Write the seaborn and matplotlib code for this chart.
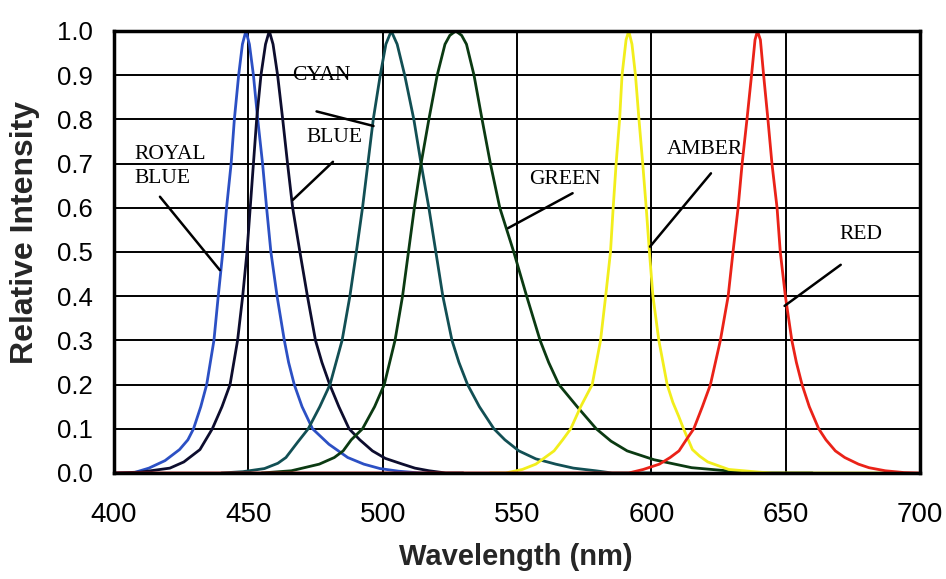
import numpy as np
import pandas as pd
import matplotlib
matplotlib.use("Agg")
import matplotlib.pyplot as plt
import seaborn as sns

# LED emission spectra (wavelength nm, relative intensity)
royal_nm = [400, 407, 413, 419, 424.4, 427.5, 429.6, 432.3, 434.5, 437.2, 438.8, 440.5, 441.9, 443.6, 444.8,
            446.4, 447.8, 449.1, 450.4, 451.9, 453.5, 455.3, 456.8, 458.4, 460.7, 463.4, 465.0, 467.1, 470.0,
            473.9, 480, 487, 493, 499, 506, 514, 520]
royal_val = [0.0, 0.0, 0.011, 0.028, 0.053, 0.075, 0.1, 0.15, 0.2, 0.3, 0.4, 0.5, 0.6, 0.7, 0.8,
             0.9, 0.97, 1.0, 0.97, 0.9, 0.8, 0.7, 0.6, 0.5, 0.4, 0.3, 0.25, 0.2, 0.15,
             0.1, 0.065, 0.035, 0.02, 0.01, 0.004, 0.0, 0.0]

blue_nm = [400, 410, 420.8, 426, 432, 436.6, 440.2, 443.2, 446.0, 447.9, 449.5, 450.7, 451.9, 453.1, 454.7,
           456.4, 457.8, 459.2, 460.9, 462.8, 464.6, 466.5, 469.2, 472.0, 475.0, 477.4, 480.3, 483.7, 487.5,
           491.5, 496.2, 501, 507.4, 512, 517.3, 523.5, 530]
blue_val = [0.0, 0.002, 0.011, 0.025, 0.053, 0.1, 0.15, 0.2, 0.3, 0.4, 0.5, 0.6, 0.7, 0.8, 0.9,
            0.97, 1.0, 0.97, 0.9, 0.8, 0.7, 0.6, 0.5, 0.4, 0.3, 0.25, 0.2, 0.15, 0.1,
            0.075, 0.05, 0.033, 0.02, 0.011, 0.005, 0.0, 0.0]

cyan_nm = [440, 448, 456, 461, 464, 468.4, 472.3, 476.6, 480.4, 484.9, 487.8, 490.2, 492.5, 494.5, 496.5,
           499.1, 501.2, 503.2, 505.4, 508.2, 511.6, 514.3, 517.2, 519.8, 522.4, 525.8, 528.4, 531.6, 536.0,
           541.4, 545.5, 550.7, 557.0, 564.4, 571.0, 579.3, 585.4, 600]
cyan_val = [0.0, 0.003, 0.01, 0.022, 0.035, 0.07, 0.1, 0.15, 0.2, 0.3, 0.4, 0.5, 0.6, 0.7, 0.8,
            0.9, 0.97, 1.0, 0.97, 0.9, 0.8, 0.7, 0.6, 0.5, 0.4, 0.3, 0.25, 0.2, 0.15,
            0.1, 0.075, 0.05, 0.032, 0.02, 0.011, 0.005, 0.0, 0.0]

green_nm = [455, 466, 476.4, 482, 485.3, 488.3, 492.5, 497, 500.6, 504.6, 507.4, 509.6, 511.8, 514.3, 517.2,
            520.3, 523.2, 525.0, 527.2, 529.4, 531.2, 534.0, 537.0, 540.1, 543.6, 546.2, 548.8, 553.6, 558.6,
            561.8, 565.6, 572.4, 579.5, 585.0, 591.0, 601.0, 615.0, 628.0, 640.0, 660.0]
green_val = [0.0, 0.005, 0.02, 0.035, 0.05, 0.075, 0.1, 0.15, 0.2, 0.3, 0.4, 0.5, 0.6, 0.7, 0.8,
             0.9, 0.97, 0.99, 1.0, 0.99, 0.97, 0.9, 0.8, 0.7, 0.6, 0.55, 0.5, 0.4, 0.3,
             0.25, 0.2, 0.15, 0.1, 0.072, 0.05, 0.03, 0.012, 0.005, 0.0, 0.0]

amber_nm = [540, 545.8, 552, 557.0, 563.8, 567, 570.0, 573.7, 578.0, 581.1, 583.0, 584.8, 585.8, 586.9, 588.2,
            589.1, 590.6, 591.6, 592.8, 594.1, 595.4, 596.8, 598.1, 599.3, 600.6, 602.8, 605.9, 608.0, 610.2,
            612.0, 615.3, 618.0, 621.0, 628.8, 640.0, 645.0, 690.0]
amber_val = [0.0, 0.0, 0.008, 0.02, 0.05, 0.075, 0.1, 0.15, 0.2, 0.3, 0.4, 0.5, 0.6, 0.7, 0.8,
             0.9, 0.98, 1.0, 0.97, 0.9, 0.8, 0.7, 0.6, 0.5, 0.4, 0.3, 0.2, 0.16, 0.128,
             0.1, 0.053, 0.038, 0.025, 0.008, 0.002, 0.0, 0.0]

red_nm = [400, 585, 591.6, 597, 603.0, 607, 610.3, 613, 615.8, 619, 622.0, 625.7, 628.6, 630.4, 632.3,
          633.8, 635.6, 637.3, 638.6, 639.5, 640.6, 641.8, 643.4, 644.9, 646.8, 648.0, 649.9, 652.3, 654.0,
          656.1, 658.8, 662.3, 665, 668.5, 672, 677.1, 681, 687.1, 694, 700]
red_val = [0.0, 0.0, 0.0, 0.008, 0.02, 0.035, 0.05, 0.075, 0.1, 0.15, 0.2, 0.3, 0.4, 0.5, 0.6,
           0.7, 0.8, 0.9, 0.98, 1.0, 0.98, 0.9, 0.8, 0.7, 0.6, 0.5, 0.4, 0.3, 0.25,
           0.2, 0.15, 0.1, 0.075, 0.05, 0.035, 0.02, 0.012, 0.005, 0.001, 0.0]

series = [
    ("ROYAL BLUE", royal_nm, royal_val, "#2c50c4"),
    ("BLUE", blue_nm, blue_val, "#0d0d2e"),
    ("CYAN", cyan_nm, cyan_val, "#124f54"),
    ("GREEN", green_nm, green_val, "#0b3a12"),
    ("AMBER", amber_nm, amber_val, "#f2ee1c"),
    ("RED", red_nm, red_val, "#ea2218"),
]

# label text position, leader start, leader end (data coords)
labels = [
    ("ROYAL\nBLUE", (407.5, 0.693), (417.1, 0.625), (439.4, 0.459), "left"),
    ("BLUE", (482.2, 0.758), (481.5, 0.704), (466.6, 0.618), "center"),
    ("CYAN", (477.3, 0.90), (475.4, 0.818), (496.6, 0.785), "center"),
    ("GREEN", (567.7, 0.663), (570.7, 0.633), (546.7, 0.554), "center"),
    ("AMBER", (620.1, 0.731), (622.2, 0.678), (599.5, 0.512), "center"),
    ("RED", (678.1, 0.539), (670.5, 0.471), (649.6, 0.378), "center"),
]

sns.set_style("white")
plt.rcParams['font.family'] = ['Liberation Sans', 'DejaVu Sans']

fig = plt.figure(figsize=(9.46, 5.79), dpi=100)
ax = fig.add_axes([0.1205, 0.1831, 0.852, 0.7634])

for name, xs, ys, col in series:
    df = pd.DataFrame({"nm": xs, "val": ys})
    sns.lineplot(data=df, x="nm", y="val", color=col, linewidth=2.0, ax=ax, estimator=None)

ax.set_xlim(400, 700)
ax.set_ylim(0, 1.0)
ax.set_xticks(np.arange(400, 701, 50))
ax.set_yticks(np.round(np.arange(0, 1.01, 0.1), 1))
ax.set_yticklabels([f"{v:.1f}" for v in np.arange(0, 1.01, 0.1)])
ax.grid(True, color="black", lw=1.4)
ax.set_axisbelow(True)
for sp in ax.spines.values():
    sp.set_color("black")
    sp.set_linewidth(2.5)

ax.tick_params(axis="both", direction="out", length=6, width=1.5, color="black", labelcolor="black")
ax.tick_params(axis="x", pad=15, labelsize=20)
ax.tick_params(axis="y", pad=9, labelsize=18.5)
ax.set_xlabel("Wavelength (nm)", fontsize=21, fontweight="bold")
ax.set_ylabel("Relative Intensity", fontsize=23, fontweight="bold")
ax.xaxis.set_label_coords(0.498, -0.158)
ax.yaxis.set_label_coords(-0.092, 0.545)

for txt, pos, p0, p1, ha in labels:
    ax.text(pos[0], pos[1], txt, ha=ha, va="center", fontsize=15.5,
            family=["Liberation Serif", "DejaVu Serif"], linespacing=1.4, color="black")
    ax.plot([p0[0], p1[0]], [p0[1], p1[1]], color="black", lw=1.8)

fig.savefig("out.png", dpi=100)
